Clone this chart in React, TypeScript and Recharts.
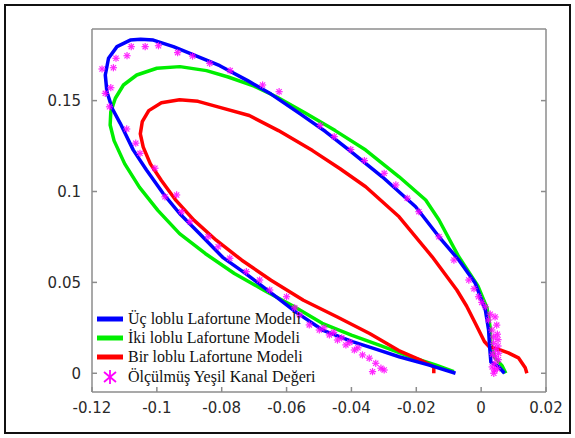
import { ComposedChart, Legend, Scatter, XAxis, YAxis } from "recharts"

type Pt = [number, number]

// Üç loblu Lafortune Modeli (blue)
const ucLoblu: Pt[] = [
  [0.0072, 0], [0.0054, 0.0036], [0.003, 0.0062], [0.0026, 0.015], [0.0023, 0.0238],
  [0.0013, 0.0348], [-0.0018, 0.0495], [-0.0069, 0.0623], [-0.013, 0.0751], [-0.0202, 0.0916],
  [-0.0305, 0.1081], [-0.0407, 0.1228], [-0.048, 0.133], [-0.0558, 0.1427], [-0.0648, 0.1536],
  [-0.072, 0.161], [-0.0806, 0.1692], [-0.0847, 0.1723], [-0.0898, 0.176], [-0.0949, 0.1797],
  [-0.1011, 0.1833], [-0.105, 0.1838], [-0.1082, 0.1833], [-0.1123, 0.1797], [-0.1149, 0.1733],
  [-0.1159, 0.1641], [-0.1154, 0.1549], [-0.1138, 0.1458], [-0.1113, 0.1375], [-0.1073, 0.1229],
  [-0.1032, 0.1118], [-0.0981, 0.099], [-0.093, 0.0879], [-0.0868, 0.0768], [-0.0797, 0.0638],
  [-0.0725, 0.0547], [-0.0643, 0.0436], [-0.057, 0.0335], [-0.0489, 0.0238], [-0.0397, 0.0174],
  [-0.032, 0.013], [-0.0253, 0.0091], [-0.016, 0.0045], [-0.0079, 0],
]

// İki loblu Lafortune Modeli (green)
const ikiLoblu: Pt[] = [
  [0.0076, 0], [0.0065, 0.004], [0.004, 0.009], [0.003, 0.016], [0.0028, 0.025],
  [0.0018, 0.036], [-0.001, 0.048], [-0.0069, 0.0641], [-0.013, 0.0843], [-0.0171, 0.0953],
  [-0.0253, 0.1081], [-0.0356, 0.1228], [-0.045, 0.1335], [-0.0545, 0.1435], [-0.063, 0.152],
  [-0.07, 0.158], [-0.078, 0.163], [-0.0847, 0.1665], [-0.0929, 0.1687], [-0.1, 0.1678],
  [-0.1062, 0.1641], [-0.1103, 0.1586], [-0.1128, 0.1513], [-0.1142, 0.1439], [-0.1144, 0.1366],
  [-0.1132, 0.128], [-0.1099, 0.1152], [-0.1054, 0.1024], [-0.0997, 0.0896], [-0.093, 0.0768],
  [-0.0851, 0.0659], [-0.0761, 0.0549], [-0.067, 0.0457], [-0.058, 0.037], [-0.049, 0.0275],
  [-0.04, 0.021], [-0.031, 0.0152], [-0.022, 0.0092], [-0.0141, 0.0046], [-0.0084, 0.0009],
]

// Bir loblu Lafortune Modeli (red)
const birLoblu: Pt[] = [
  [0.0141, 0], [0.0136, 0.003], [0.0115, 0.0085], [0.0084, 0.0112], [0.0054, 0.0132],
  [0.0025, 0.0145], [0.001, 0.0175], [-0.0018, 0.0275], [-0.0045, 0.037], [-0.0075, 0.0458],
  [-0.0151, 0.0641], [-0.0253, 0.0861], [-0.0356, 0.1026], [-0.0435, 0.1125], [-0.052, 0.1225],
  [-0.0625, 0.1335], [-0.0715, 0.1418], [-0.0806, 0.1463], [-0.0873, 0.1496], [-0.093, 0.1505],
  [-0.0986, 0.1488], [-0.1025, 0.1445], [-0.1045, 0.1384], [-0.1051, 0.1317], [-0.1042, 0.1244],
  [-0.102, 0.1152], [-0.0986, 0.1061], [-0.0941, 0.0951], [-0.0885, 0.0841], [-0.0817, 0.0732],
  [-0.0738, 0.0622], [-0.0648, 0.0512], [-0.0548, 0.0402], [-0.0445, 0.0311], [-0.0344, 0.0219],
  [-0.0254, 0.0125], [-0.019, 0.0075], [-0.0146, 0.0036], [-0.0146, 0],
]

// Ölçülmüş Yeşil Kanal Değeri (magenta stars)
const olculmus: Pt[] = [
  [-0.1169, 0.1674], [-0.1159, 0.154], [-0.1142, 0.1571], [-0.1134, 0.1681], [-0.1126, 0.1733],
  [-0.1092, 0.1747], [-0.1079, 0.1797], [-0.1036, 0.1797], [-0.0995, 0.1802], [-0.0936, 0.1764],
  [-0.089, 0.1745], [-0.0837, 0.1705], [-0.0774, 0.1665], [-0.0674, 0.1586], [-0.0623, 0.1549],
  [-0.0496, 0.1363], [-0.0453, 0.1302], [-0.0402, 0.1231], [-0.036, 0.117], [-0.0299, 0.11],
  [-0.0263, 0.1036], [-0.0228, 0.0963], [-0.0192, 0.0889], [-0.013, 0.0751], [-0.0084, 0.0623],
  [-0.0038, 0.0513], [-0.0008, 0.0421], [0.0013, 0.0366], [0.0023, 0.0293], [0.0033, 0.0238],
  [0.0038, 0.02], [0.0038, 0.0165], [0.0044, 0.013], [0.0044, 0.0091], [0.0042, 0.0055],
  [0.0041, 0.0018], [0.0039, 0], [0.0048, 0.0265], [0.005, 0.0215], [0.0052, 0.015],
  [0.0028, 0.0325], [0.0043, 0.031], [0.0052, 0.0185], [0.0054, 0.011], [0.0053, 0.0075],
  [0.0034, 0.0035], [0.005, 0.0025], [0.0035, 0.0105], [0.0002, 0.039], [-0.0022, 0.0465],
  [-0.1146, 0.1466], [-0.1093, 0.1344], [-0.1065, 0.1266], [-0.1052, 0.121], [-0.1006, 0.1128],
  [-0.0975, 0.0971], [-0.0939, 0.0981], [-0.0924, 0.0889], [-0.0898, 0.0834], [-0.0842, 0.0751],
  [-0.0811, 0.0696], [-0.0775, 0.0633], [-0.0724, 0.0559], [-0.0683, 0.0513], [-0.0652, 0.0458],
  [-0.06, 0.0421], [-0.0575, 0.036], [-0.056, 0.0321], [-0.053, 0.0266], [-0.0499, 0.0238],
  [-0.0468, 0.0211], [-0.0443, 0.0183], [-0.0417, 0.0156], [-0.0391, 0.0128], [-0.0366, 0.0101],
  [-0.0345, 0.0083], [-0.0325, 0.0055], [-0.0309, 0.0028], [-0.0299, 0.0018], [-0.0335, 0.0009],
  [-0.0485, 0.025], [-0.0455, 0.0225], [-0.043, 0.0195], [-0.0405, 0.017], [-0.038, 0.014],
]

const xTicks = [-0.12, -0.1, -0.08, -0.06, -0.04, -0.02, 0, 0.02]
const yTicks = [0, 0.05, 0.1, 0.15]

const seriesNames = [
  "Üç loblu Lafortune Modeli",
  "İki loblu Lafortune Modeli",
  "Bir loblu Lafortune Modeli",
  "Ölçülmüş Yeşil Kanal Değeri",
]
const seriesColors = ["#0000ff", "#00ee00", "#ff0000", "#ff00ff"]

const xDomain: [number, number] = [-0.12, 0.02]
const yDomain: [number, number] = [-0.0103, 0.1894]

const toRows = (pts: Pt[]) => pts.map(([x, y]) => ({ x, y }))

const axisGray = "#8c8c8c"
const tickFont = { fontSize: 15, fill: "#2a2a2a", fontFamily: "'DejaVu Sans', Verdana, sans-serif" }

function Asterisk(props: any) {
  const { cx, cy } = props
  const r = 3.6
  const d = r * 0.72
  return (
    <g stroke="#ff00ff" strokeWidth={1.2} opacity={0.85}>
      <line x1={cx - r} y1={cy} x2={cx + r} y2={cy} />
      <line x1={cx} y1={cy - r} x2={cx} y2={cy + r} />
      <line x1={cx - d} y1={cy - d} x2={cx + d} y2={cy + d} />
      <line x1={cx - d} y1={cy + d} x2={cx + d} y2={cy - d} />
    </g>
  )
}

function LegendBox() {
  return (
    <div style={{ fontFamily: "'Liberation Serif', 'Times New Roman', serif", fontSize: 16, color: "#111" }}>
      {seriesNames.map((name, i) => (
        <div key={name} style={{ display: "flex", alignItems: "center", height: 19.3 }}>
          <svg width={30} height={16} style={{ marginRight: 3 }}>
            {i < 3 ? (
              <line x1={2} y1={8} x2={28} y2={8} stroke={seriesColors[i]} strokeWidth={5} />
            ) : (
              <g stroke="#ff00ff" strokeWidth={1.8}>
                <line x1={15} y1={1} x2={15} y2={15} />
                <line x1={9} y1={3} x2={21} y2={13} />
                <line x1={9} y1={13} x2={21} y2={3} />
              </g>
            )}
          </svg>
          <span style={{ whiteSpace: "nowrap" }}>{name}</span>
        </div>
      ))}
    </div>
  )
}

const noShape = () => <g />

export default function App() {
  return (
    <div style={{ position: "absolute", left: 0, top: 0, width: 575, height: 438, background: "#fff" }}>
      <ComposedChart width={575} height={438} margin={{ top: 28, right: 28, bottom: 16, left: 32 }}>
        <XAxis
          type="number"
          dataKey="x"
          domain={xDomain}
          ticks={xTicks}
          allowDataOverflow
          height={30}
          tickSize={-5}
          tickMargin={15}
          stroke={axisGray}
          strokeWidth={1.5}
          tick={tickFont}
          tickFormatter={(v: number) => String(v)}
        />
        <XAxis
          xAxisId="top"
          orientation="top"
          type="number"
          domain={xDomain}
          ticks={xTicks}
          allowDataOverflow
          height={1}
          tickSize={-5}
          stroke={axisGray}
          strokeWidth={1.5}
          tickFormatter={() => ""}
        />
        <YAxis
          type="number"
          dataKey="y"
          domain={yDomain}
          ticks={yTicks}
          allowDataOverflow
          width={60}
          tickSize={-5}
          tickMargin={16}
          stroke={axisGray}
          strokeWidth={1.5}
          tick={tickFont}
          tickFormatter={(v: number) => String(v)}
        />
        <YAxis
          yAxisId="right"
          orientation="right"
          type="number"
          domain={yDomain}
          ticks={yTicks}
          allowDataOverflow
          width={1}
          tickSize={-5}
          stroke={axisGray}
          strokeWidth={1.5}
          tickFormatter={() => ""}
        />
        <Scatter
          name={seriesNames[1]}
          data={toRows(ikiLoblu)}
          dataKey="y"
          line={{ stroke: seriesColors[1], strokeWidth: 3.5, strokeLinejoin: "round" }}
          shape={noShape}
          isAnimationActive={false}
        />
        <Scatter
          name={seriesNames[2]}
          data={toRows(birLoblu)}
          dataKey="y"
          line={{ stroke: seriesColors[2], strokeWidth: 3.5, strokeLinejoin: "round" }}
          shape={noShape}
          isAnimationActive={false}
        />
        <Scatter
          name={seriesNames[0]}
          data={toRows(ucLoblu)}
          dataKey="y"
          line={{ stroke: seriesColors[0], strokeWidth: 3.5, strokeLinejoin: "round" }}
          shape={noShape}
          isAnimationActive={false}
        />
        <Scatter
          name={seriesNames[3]}
          data={toRows(olculmus)}
          dataKey="y"
          shape={Asterisk}
          isAnimationActive={false}
        />
        <Legend
          layout="horizontal"
          align="center"
          verticalAlign="middle"
          content={() => <LegendBox />}
          wrapperStyle={{ left: 95, top: 309, width: 260, height: 80 }}
        />
      </ComposedChart>
      <div
        style={{
          position: "absolute",
          left: 4,
          top: 4,
          width: 563,
          height: 426,
          border: "2px solid #111",
          pointerEvents: "none",
        }}
      />
    </div>
  )
}
